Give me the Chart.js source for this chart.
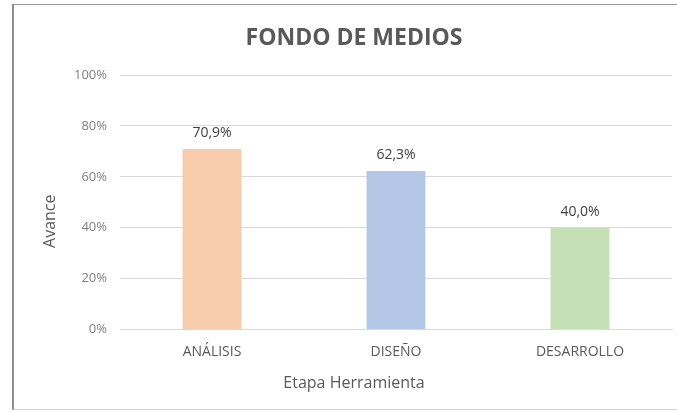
<!DOCTYPE html>
<html>
<head>
<meta charset="utf-8">
<script src="https://cdn.jsdelivr.net/npm/chart.js@4"></script>
<style>
  html, body { margin: 0; padding: 0; background: #fff; overflow: hidden; }
  body { width: 677px; height: 412px; position: relative; }
  /* chart frame: the right edge runs past the window */
  #frame {
    position: absolute; left: 12px; top: 4px; width: 700px; height: 406px;
    border-top: 1px solid #9a9a9a; border-bottom: 1px solid #d0d0d0;
    border-left: 2px solid #8c8c8c; box-sizing: border-box;
  }
  #avanceChart { position: absolute; left: 13px; top: 5px; }
</style>
</head>
<body>
<div id="frame"></div>
<canvas id="avanceChart" width="682" height="404"></canvas>
<script>
const etapas = ["ANÁLISIS", "DISEÑO", "DESARROLLO"];
const avance = [70.9, 62.3, 40.0];
const colores = ["#F8CBAD", "#B4C7E7", "#C5E0B4"];
const ticksY = [0, 20, 40, 60, 80, 100];

const fontFam = "'Open Sans', 'Liberation Sans', sans-serif";

// value labels above each bar, decimal comma
const valueLabels = {
  id: "valueLabels",
  afterDatasetsDraw(chart) {
    const ctx = chart.ctx;
    const meta = chart.getDatasetMeta(0);
    ctx.save();
    ctx.font = "14px " + fontFam;
    ctx.fillStyle = "#404040";
    ctx.textAlign = "center";
    ctx.textBaseline = "bottom";
    meta.data.forEach((bar, i) => {
      const txt = avance[i].toFixed(1).replace(".", ",") + "%";
      ctx.fillText(txt, bar.x, bar.y - 9);
    });
    ctx.restore();
  }
};

// y axis title, sitting a bit below the middle of the plot
const yTitle = {
  id: "yTitle",
  afterDraw(chart) {
    const ctx = chart.ctx;
    const area = chart.chartArea;
    ctx.save();
    ctx.translate(chart.scales.y.left + 14, (area.top + area.bottom) / 2 + 19);
    ctx.rotate(-Math.PI / 2);
    ctx.font = "16px " + fontFam;
    ctx.fillStyle = "#595959";
    ctx.textAlign = "center";
    ctx.textBaseline = "middle";
    ctx.fillText("Avance", 0, 0);
    ctx.restore();
  }
};

new Chart(document.getElementById("avanceChart"), {
  type: "bar",
  data: {
    labels: etapas,
    datasets: [{ data: avance, backgroundColor: colores, barPercentage: 0.32, categoryPercentage: 1 }]
  },
  options: {
    responsive: false,
    animation: false,
    // equal side padding keeps the titles centred on the whole frame
    layout: { padding: { left: 23, right: 23, top: 0, bottom: 0 } },
    plugins: {
      legend: { display: false },
      tooltip: { enabled: false },
      title: {
        display: true, text: "FONDO DE MEDIOS", color: "#595959",
        font: { family: fontFam, size: 23, weight: "bold" },
        padding: { top: 19.2, bottom: 23.2 }
      },
      subtitle: {
        display: true, position: "bottom", text: "Etapa Herramienta", color: "#595959",
        font: { family: fontFam, size: 16 },
        padding: { top: 4.4, bottom: 15.9 }
      }
    },
    scales: {
      x: {
        grid: { display: false, drawTicks: false },
        border: { color: "#d9d9d9" },
        ticks: { color: "#595959", font: { family: fontFam, size: 14 }, padding: 14 },
        afterFit(scale) { scale.height = 40; }
      },
      y: {
        min: 0, max: 100,
        afterBuildTicks(scale) { scale.ticks = ticksY.map(v => ({ value: v })); },
        grid: { color: "#d9d9d9", drawTicks: false },
        border: { display: false },
        ticks: { color: "#7f7f7f", font: { family: fontFam, size: 13 }, padding: 13, callback: v => v + "%" },
        afterFit(scale) { scale.width = 84; }
      }
    }
  },
  plugins: [valueLabels, yTitle]
});
</script>
</body>
</html>
